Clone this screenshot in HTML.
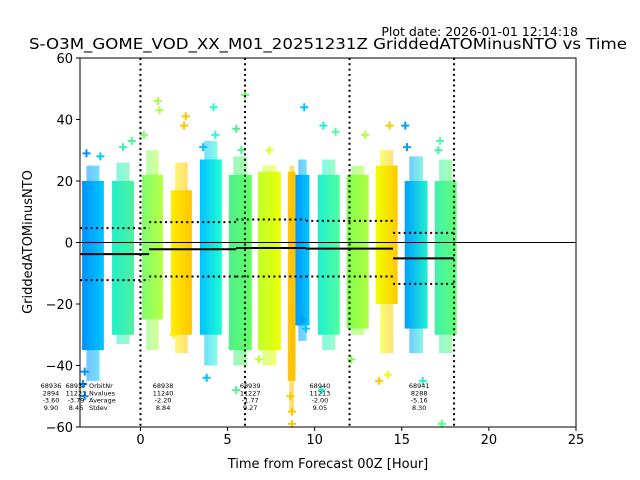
<!DOCTYPE html>
<html><head><meta charset="utf-8"><style>
html,body{margin:0;padding:0;background:#fff;}
svg{display:block;font-family:"DejaVu Sans","Liberation Sans",sans-serif;}
</style></head><body>
<svg id="chart" width="640" height="480" viewBox="0 0 640 480" xmlns="http://www.w3.org/2000/svg">
<defs id="defs"></defs>
<text x="578" y="36" font-size="12.5" text-anchor="end">Plot date: 2026-01-01 12:14:18</text>
<text x="328" y="49" font-size="15.5" text-anchor="middle" textLength="598" lengthAdjust="spacingAndGlyphs">S-O3M_GOME_VOD_XX_M01_20251231Z GriddedATOMinusNTO vs Time</text>
<g id="plot"></g>
<g id="axes"></g>
<text x="328" y="468" font-size="13" text-anchor="middle">Time from Forecast 00Z [Hour]</text>
<text transform="translate(32,242) rotate(-90)" font-size="13" text-anchor="middle">GriddedATOMinusNTO</text>
</svg>
<script>
const xTicks=[0,5,10,15,20,25];
const yTicks=[60,40,20,0,-20,-40,-60];
const stripX0=[-3.35,-1.63,0.09,1.75,3.41,5.07,6.74,8.46,8.9,10.18,11.84,13.5,15.17,16.89];
const stripX1=[-2.1,-0.37,1.29,2.95,4.67,6.39,8.06,8.9,9.7,11.44,13.1,14.76,16.48,18.15];
const stripTop=[20,20,22,17,27,22,23,23,22,22,22,25,20,20];
const stripBot=[-35,-30,-25,-30,-30,-35,-35,-45,-27,-30,-28,-20,-28,-30];
const tailTop=[25,26,30,26,33,28,25,25,27,27,25,30,28,27];
const tailBot=[-45,-33,-35,-36,-40,-40,-40,-55,-32,-35,-30,-36,-36,-36];
const stripC0=["#0090ff","#20f0c8","#80ff70","#ffee00","#00c0ff","#50f090","#c0ff30","#ffc800","#0098ff","#20f0d0","#80ff50","#f0ff00","#00a0ff","#40f0b0"];
const stripC1=["#00c8ff","#50f0a0","#b8ff40","#ffc400","#20ffd0","#60ff60","#ecff00","#ffc000","#00c8ff","#50ffa0","#b0ff40","#ffc800","#20f0d0","#60ff70"];
const outX=[-3.1,-2.3,-3.2,-3.3,-1.0,-0.5,-0.6,1.0,1.1,0.2,2.6,2.5,1.9,4.2,3.6,4.3,5.5,5.8,6.0,7.4,6.8,8.7,8.7,8.6,9.4,9.3,10.5,11.2,10.4,12.9,12.1,14.3,14.2,13.7,15.2,15.3,16.2,17.2,17.3,17.1,-3.2,3.8,5.5,9.5];
const outY=[29,28,-42,-46,31,33,-25,46,43,35,41,38,-30,44,31,35,37,30,48,30,-38,-55,-59,-50,44,-25,38,36,-48,35,-38,38,-43,-45,38,31,-45,33,-59,30,-50,-44,-48,-28];
const outC=["#0090ff","#00c8ff","#0090ff","#0090ff","#40f0b0","#50f0a0","#50f0a0","#b0ff40","#b0ff40","#80ff70","#ffc400","#ffc400","#ffee00","#20ffd0","#00c0ff","#20ffd0","#50f090","#50f090","#60ff60","#e0ff10","#c0ff30","#ffc800","#ffc800","#ffc800","#00c8ff","#0098ff","#20f0d0","#50ffa0","#20f0d0","#b0ff40","#80ff50","#ffc800","#f0ff00","#ffc800","#00a0ff","#00a0ff","#20f0d0","#50ffa0","#50ff90","#40f0b0","#0090ff","#00c0ff","#50f090","#00c8ff"];
const segX0=[-3.47,0.5,5.5,9.5,14.5];
const segX1=[0.5,5.5,9.5,14.5,18];
const segMean=[-3.79,-2.20,-1.77,-2.00,-5.16];
const segStd=[8.46,8.84,9.27,9.05,8.30];
const vLines=[0,6,12,18];
const infoX=[-3.7,1.3,6.3,10.3,16.0];
const infoOrbit=["68937","68938","68939","68940","68941"];
const infoN=["11223","11240","11227","11213","8288"];
const infoAvg=["-3.79","-2.20","-1.77","-2.00","-5.16"];
const infoSd=["8.46","8.84","9.27","9.05","8.30"];

const L=80,R=576,T=58,B=427,XMIN=-3.47,XMAX=25,YMIN=-60,YMAX=60;
const sx=v=>L+(v-XMIN)/(XMAX-XMIN)*(R-L);
const sy=v=>B-(v-YMIN)/(YMAX-YMIN)*(B-T);
const NS="http://www.w3.org/2000/svg";
function mk(t,a,p){const e=document.createElementNS(NS,t);for(const k in a)e.setAttribute(k,a[k]);p.appendChild(e);return e;}
const plot=document.getElementById('plot'),axes=document.getElementById('axes'),defs=document.getElementById('defs');
mk('rect',{x:L,y:T,width:R-L,height:B-T,fill:'#fff'},plot);
stripX0.forEach((x0,i)=>{
  const g=mk('linearGradient',{id:'g'+i,x1:0,y1:0,x2:1,y2:0},defs);
  mk('stop',{offset:0,'stop-color':stripC0[i]},g);mk('stop',{offset:1,'stop-color':stripC1[i]},g);
  const w=sx(stripX1[i])-sx(x0);
  const tl=mk('rect',{x:sx(x0)+w*0.2,y:sy(tailTop[i]),width:w*0.6,height:sy(tailBot[i])-sy(tailTop[i]),fill:'url(#g'+i+')',opacity:0.55},plot);
  
  
  const r=mk('rect',{x:sx(x0),y:sy(stripTop[i]),width:w,height:sy(stripBot[i])-sy(stripTop[i]),fill:'url(#g'+i+')'},plot);
  
  
});
outX.forEach((x,i)=>{
  const px=sx(x),py=sy(outY[i]);
  const p=mk('path',{d:`M${px-4},${py}H${px+4}M${px},${py-4}V${py+4}`,stroke:outC[i],'stroke-width':2},plot);
  
  
});
mk('line',{x1:L,x2:R,y1:sy(0),y2:sy(0),stroke:'#000','stroke-width':1},plot);
segX0.forEach((x0,i)=>{
  const x1=sx(x0),x2=sx(segX1[i]);
  const m=mk('line',{x1:x1,x2:x2,y1:sy(segMean[i]),y2:sy(segMean[i]),stroke:'#000','stroke-width':2},plot);
  
  
  [1,-1].forEach(s=>{
    const d=mk('line',{x1:x1,x2:x2,y1:sy(segMean[i]+s*segStd[i]),y2:sy(segMean[i]+s*segStd[i]),stroke:'#000','stroke-width':2,'stroke-dasharray':'2,3.3'},plot);
    
    
  });
});
vLines.forEach(v=>{
  const l=mk('line',{x1:sx(v),x2:sx(v),y1:T,y2:B,stroke:'#000','stroke-width':2,'stroke-dasharray':'2,3.3'},plot);
  
  
});
function info(x,lines,anchor){
  lines.forEach((s,j)=>{const t=mk('text',{x:x,y:388+j*7.3,'font-size':6.5,'text-anchor':anchor||'middle'},plot);t.textContent=s;
  
  });
}
info(51,["68936","2894","-3.60","9.90"]);
infoX.forEach((x,i)=>info(sx(x),[infoOrbit[i],infoN[i],infoAvg[i],infoSd[i]]));
info(89,["OrbitNr","Nvalues","Average","Stdev"],'start');
mk('rect',{x:L,y:T,width:R-L,height:B-T,fill:'none',stroke:'#000','stroke-width':1},axes);
xTicks.forEach(v=>{mk('line',{x1:sx(v),x2:sx(v),y1:B,y2:B+4,stroke:'#000'},axes);
  const t=mk('text',{x:sx(v),y:B+17,'font-size':13,'text-anchor':'middle'},axes);t.textContent=v;
  
  });
yTicks.forEach(v=>{mk('line',{x1:L-4,x2:L,y1:sy(v),y2:sy(v),stroke:'#000'},axes);
  const t=mk('text',{x:L-7,y:sy(v)+5,'font-size':13,'text-anchor':'end'},axes);t.textContent=v<0?'\u2212'+(-v):v;
  
  });
</script>
</body></html>
